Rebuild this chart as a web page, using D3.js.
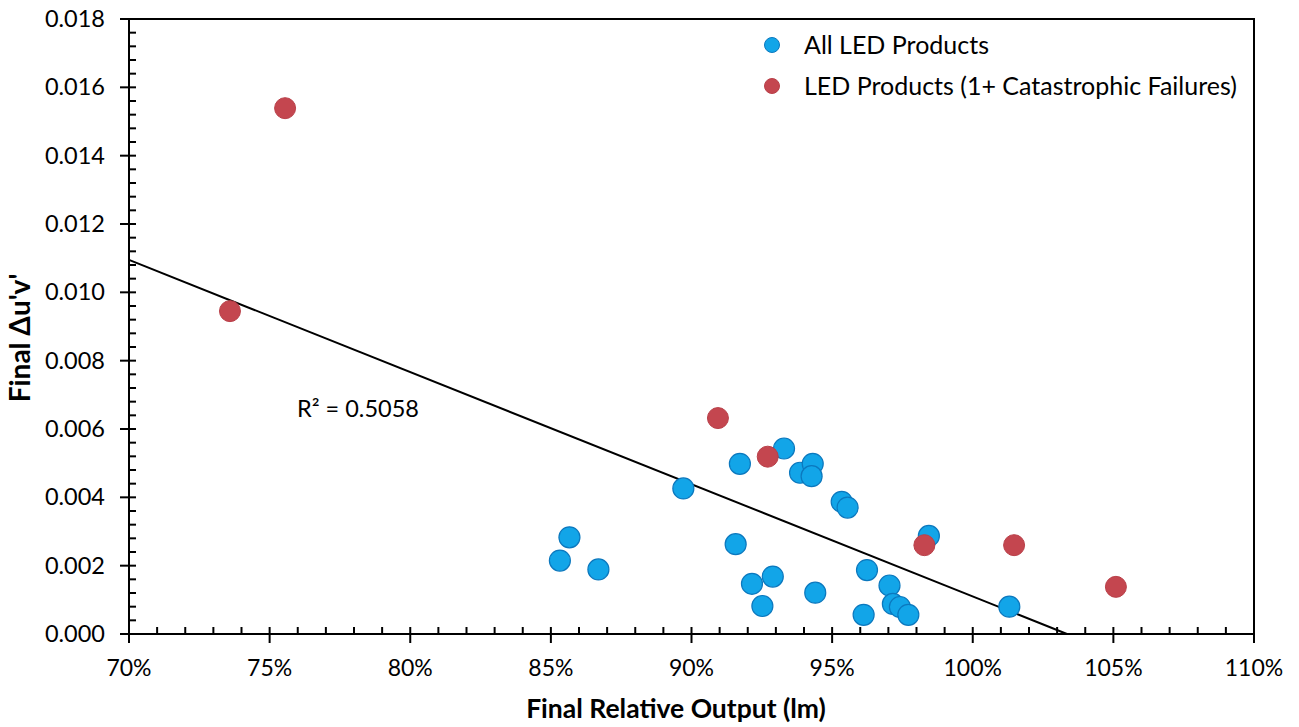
<!DOCTYPE html>
<html><head><meta charset="utf-8">
<script src="https://cdn.jsdelivr.net/npm/d3@7"></script>
<style>
body{margin:0;background:#fff}
text{font-family:Lato,"Open Sans",sans-serif;fill:#000}
</style>
</head><body>
<svg id="c" width="1299" height="727"></svg>
<script>
// ---- data ----
const allLedX = [0.8532,0.8566,0.8669,0.8971,0.9172,0.9157,0.9215,0.9252,0.9289,0.9329,0.9386,0.9431,0.9427,0.9440,0.9534,0.9555,0.9612,0.9624,0.9704,0.9716,0.9741,0.9771,0.9844,1.0130];
const allLedY = [0.00215,0.00283,0.00189,0.00426,0.00498,0.00263,0.00147,0.00082,0.00168,0.00543,0.00472,0.00498,0.00462,0.00121,0.00387,0.00370,0.00056,0.00187,0.00142,0.00088,0.00079,0.00056,0.00287,0.00080];
const failX = [0.7555,0.7359,0.9094,0.9271,0.9828,1.0147,1.0509];
const failY = [0.01539,0.00945,0.00632,0.00519,0.00260,0.00260,0.00138];
const seriesNames = ["All LED Products","LED Products (1+ Catastrophic Failures)"];
const xTicks = [0.70,0.75,0.80,0.85,0.90,0.95,1.00,1.05,1.10];
const xMinor = [0.71,0.72,0.73,0.74,0.76,0.77,0.78,0.79,0.81,0.82,0.83,0.84,0.86,0.87,0.88,0.89,0.91,0.92,0.93,0.94,0.96,0.97,0.98,0.99,1.01,1.02,1.03,1.04,1.06,1.07,1.08,1.09];
const yTicks = [0,0.002,0.004,0.006,0.008,0.010,0.012,0.014,0.016,0.018];
const yMinor = d3.range(0,0.0181,0.0004).filter(v=>Math.abs(v/0.002-Math.round(v/0.002))>1e-6);
const trendSlope = -0.03283;
const trendIntercept = 0.03393;
const r2Label = "R\u00B2 = 0.5058";
const xTitle = "Final Relative Output (lm)";
const yTitle = "Final \u0394u'v'";

// ---- layout ----
const L=129,R=1254,T=19,B=634;
const svg=d3.select("#c");
const x=d3.scaleLinear().domain([0.70,1.10]).range([L,R]);
const y=d3.scaleLinear().domain([0,0.018]).range([B,T]);

// frame
svg.append("rect").attr("x",L).attr("y",T).attr("width",R-L).attr("height",B-T)
  .attr("fill","none").attr("stroke","#000").attr("stroke-width",2);

// x axis
const gx=svg.append("g");
gx.selectAll("line.maj").data(xTicks).join("line")
  .attr("x1",d=>x(d)).attr("x2",d=>x(d)).attr("y1",B-7).attr("y2",B+9)
  .attr("stroke","#000").attr("stroke-width",2);
gx.selectAll("line.min").data(xMinor).join("line").attr("class","min")
  .attr("x1",d=>x(d)).attr("x2",d=>x(d)).attr("y1",B-7).attr("y2",B)
  .attr("stroke","#000").attr("stroke-width",2);
gx.selectAll("text").data(xTicks).join("text")
  .attr("x",d=>x(d)).attr("y",B+42).attr("text-anchor","middle")
  .attr("font-size",23).text(d=>Math.round(d*100)+"%");

// y axis
const gy=svg.append("g");
gy.selectAll("line.maj").data(yTicks).join("line")
  .attr("x1",L-9).attr("x2",L+7).attr("y1",d=>y(d)).attr("y2",d=>y(d))
  .attr("stroke","#000").attr("stroke-width",2);
gy.selectAll("line.min").data(yMinor).join("line").attr("class","min")
  .attr("x1",L).attr("x2",L+7).attr("y1",d=>y(d)).attr("y2",d=>y(d))
  .attr("stroke","#000").attr("stroke-width",2);
gy.selectAll("text").data(yTicks).join("text")
  .attr("x",L-24).attr("y",d=>y(d)+8).attr("text-anchor","end")
  .attr("font-size",23.5).text(d=>d3.format(".3f")(d));

// titles
svg.append("text").attr("x",676).attr("y",718).attr("text-anchor","middle")
  .attr("font-size",26.5).attr("font-weight","bold").text(xTitle);
svg.append("text").attr("transform",`translate(30,338) rotate(-90)`)
  .attr("text-anchor","middle").attr("font-size",28).attr("font-weight","bold").text(yTitle);

// trend line
const tx0=0.70, tx1=-trendIntercept/trendSlope;
svg.append("line").attr("x1",x(tx0)).attr("y1",y(trendIntercept+trendSlope*tx0))
  .attr("x2",x(tx1)).attr("y2",y(trendIntercept+trendSlope*tx1))
  .attr("stroke","#000").attr("stroke-width",2);
svg.append("text").attr("x",297).attr("y",417).attr("font-size",23.5).text(r2Label);

// points
const allPts=allLedX.map((v,i)=>({x:v,y:allLedY[i]}));
const failPts=failX.map((v,i)=>({x:v,y:failY[i]}));
svg.append("g").selectAll("circle").data(allPts).join("circle")
  .attr("cx",d=>x(d.x)).attr("cy",d=>y(d.y)).attr("r",10.5)
  .attr("fill","#12A5E8").attr("stroke","#0B78BE").attr("stroke-width",1.2);
svg.append("g").selectAll("circle").data(failPts).join("circle")
  .attr("cx",d=>x(d.x)).attr("cy",d=>y(d.y)).attr("r",10.5)
  .attr("fill","#C4464F").attr("stroke","#B94049").attr("stroke-width",1);

// legend
const lg=svg.append("g");
const legColors=[["#12A5E8","#0B78BE"],["#C4464F","#B94049"]];
seriesNames.forEach((n,i)=>{
  const yy=45+i*41;
  lg.append("circle").attr("cx",772).attr("cy",yy).attr("r",7.5)
    .attr("fill",legColors[i][0]).attr("stroke",legColors[i][1]).attr("stroke-width",1);
  lg.append("text").attr("x",804).attr("y",yy+9).attr("font-size",25).text(n);
});
</script>
</body></html>
